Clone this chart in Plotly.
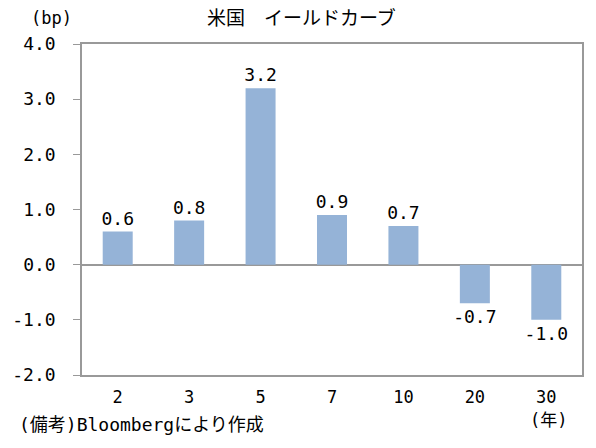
import plotly.graph_objects as go

categories = ["2", "3", "5", "7", "10", "20", "30"]
values = [0.6, 0.8, 3.2, 0.9, 0.7, -0.7, -1.0]
y_ticks = [-2.0, -1.0, 0.0, 1.0, 2.0, 3.0, 4.0]
y_tick_labels = ["-2.0", "-1.0", "0.0", "1.0", "2.0", "3.0", "4.0"]

FONT = "DejaVu Sans Mono, Noto Sans CJK JP"
fig = go.Figure()
fig.add_trace(go.Bar(
    x=categories, y=values,
    marker=dict(color="#95B3D7", line=dict(width=0)),
    width=0.42,
    text=[f"{v:.1f}" for v in values],
    textposition="outside",
    constraintext="none",
    textfont=dict(family=FONT, size=18, color="#000000"),
    cliponaxis=False,
))
fig.update_layout(
    width=596, height=448,
    margin=dict(l=78, r=12, t=44, b=73),
    paper_bgcolor="white", plot_bgcolor="white",
    showlegend=False,
    font=dict(family=FONT, size=18, color="#000000"),
)
fig.update_xaxes(
    type="category", showline=True, linecolor="#999999", linewidth=1.5, mirror=True,
    ticks="", showgrid=False, tickfont=dict(size=17), ticklabelstandoff=6,
)
fig.update_yaxes(
    range=[-2.0, 4.0], tickvals=y_ticks, ticktext=y_tick_labels,
    showline=True, linecolor="#999999", linewidth=1.5, mirror=True,
    ticks="outside", ticklen=7, tickcolor="#999999",
    showgrid=False, zeroline=True, zerolinecolor="#999999", zerolinewidth=1.5,
    tickfont=dict(size=18), ticklabelstandoff=14,
)
fig.add_annotation(text="米国　イールドカーブ", xref="paper", yref="paper",
                   x=(300 - 78) / 506, y=1.0, yshift=26, showarrow=False,
                   font=dict(size=19), xanchor="center", yanchor="middle")
fig.add_annotation(text="(bp)", xref="paper", yref="paper",
                   x=(47 - 78) / 506, y=1.0, yshift=26, showarrow=False,
                   font=dict(size=17), xanchor="center", yanchor="middle")
fig.add_annotation(text="(年)", xref="paper", yref="paper",
                   x=(550 - 78) / 506, y=0, yshift=-45, showarrow=False,
                   font=dict(size=17), xanchor="center", yanchor="middle")
fig.add_annotation(text="(備考)Bloombergにより作成", xref="paper", yref="paper",
                   x=(12 - 78) / 506, y=0, yshift=-49, showarrow=False,
                   font=dict(size=18), xanchor="left", yanchor="middle")
fig.write_html("out.html")
